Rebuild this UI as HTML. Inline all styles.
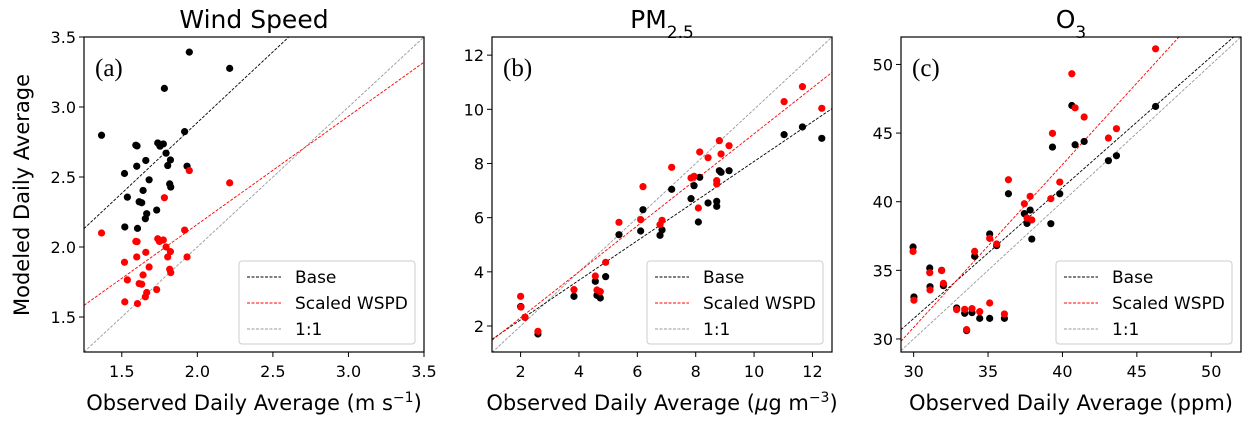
<!DOCTYPE html>
<html><head><meta charset="utf-8"><style>
html,body{margin:0;padding:0;background:#fff;}
svg{display:block;font-family:"DejaVu Sans","Liberation Sans",sans-serif;}
</style></head><body>
<svg id="chart" width="1258" height="421" viewBox="0 0 1258 421" xmlns="http://www.w3.org/2000/svg"></svg>
<script>
// Panel (a) Wind Speed
const aBaseX=[1.947,2.214,1.782,1.366,1.916,1.593,1.601,1.738,1.753,1.775,1.749,1.793,1.659,1.822,1.599,1.804,1.932,1.518,1.681,1.817,1.824,1.641,1.537,1.615,1.632,1.665,1.656,1.731,1.520,1.604];
const aBaseY=[3.392,3.276,3.133,2.798,2.824,2.727,2.722,2.743,2.720,2.736,2.730,2.670,2.618,2.622,2.577,2.582,2.577,2.525,2.480,2.451,2.428,2.404,2.356,2.323,2.316,2.238,2.202,2.264,2.143,2.133];
const aScaledY=[2.546,2.458,2.352,2.100,2.121,2.040,2.038,2.059,2.043,2.050,2.040,2.000,1.962,1.967,1.929,1.929,1.929,1.891,1.857,1.841,1.817,1.800,1.765,1.739,1.734,1.675,1.644,1.696,1.608,1.596];
const aFit=[[1.01,0.869],[0.772,0.618]];
// Panel (b) PM2.5
const bX=[2.594,2.0,2.011,2.149,3.829,4.56,4.617,4.731,4.914,5.371,6.114,6.194,6.777,6.846,7.177,7.84,8.091,7.943,8.137,8.423,8.72,8.72,8.811,8.869,9.143,11.029,11.657,12.32];
const bBaseY=[1.705,2.714,2.714,2.32,3.095,3.649,3.132,3.034,3.822,5.372,5.508,6.295,5.348,5.545,7.046,6.702,5.84,7.182,7.489,6.542,6.603,6.418,7.735,7.674,7.735,9.065,9.348,8.929];
const bScaledY=[1.803,3.095,2.70,2.32,3.342,3.846,3.329,3.268,4.351,5.828,5.926,7.145,5.742,5.902,7.858,7.465,6.357,7.526,8.425,8.215,7.366,7.243,8.843,8.351,8.658,10.283,10.837,10.037];
const bFit=[[0.731,0.765],[0.849,0.608]];
// Panel (c) O3
const cX=[29.96,30.02,31.08,31.10,31.88,32.0,32.89,33.43,33.56,33.92,34.10,34.44,35.11,35.11,35.58,36.10,36.37,37.44,37.62,37.83,37.94,39.22,39.33,39.82,40.63,40.85,41.46,43.09,43.63,46.26];
const cBaseY=[36.70,33.06,35.17,33.81,35.0,33.88,32.26,31.87,30.61,31.92,36.02,31.50,37.65,31.50,36.80,31.50,40.58,39.13,38.42,39.39,37.28,38.40,43.98,40.58,47.01,44.15,44.39,42.99,43.35,46.94];
const cScaledY=[36.38,32.82,34.83,33.57,34.98,34.05,32.14,32.16,30.68,32.21,36.38,31.99,37.33,32.62,36.92,31.82,41.60,39.85,38.81,40.39,38.67,40.22,44.98,41.43,49.32,46.84,46.17,44.64,45.32,51.14];
const cFit=[[0.954,2.87],[1.187,-4.77]];
const aTicksX=[1.5,2.0,2.5,3.0,3.5], aTicksY=[1.5,2.0,2.5,3.0,3.5];
const bTicksX=[2,4,6,8,10,12], bTicksY=[2,4,6,8,10,12];
const cTicksX=[30,35,40,45,50], cTicksY=[30,35,40,45,50];

const NS="http://www.w3.org/2000/svg";
const svg=document.getElementById('chart');
function mk(tag,attrs,parent,text){const e=document.createElementNS(NS,tag);for(const k in attrs)e.setAttribute(k,attrs[k]);if(text!==undefined)e.textContent=text;(parent||svg).appendChild(e);return e;}

const panels=[
 {id:'a',L:84,R:424,T:37,B:352,xr:[1.25,3.5],yr:[1.25,3.5],xs:aBaseX,xs2:aBaseX,by:aBaseY,sy:aScaledY,fit:aFit,tx:aTicksX,ty:aTicksY,fmt:v=>v.toFixed(1),title:'Wind Speed',xl:'Observed Daily Average (m s<tspan baseline-shift="super" font-size="14">−1</tspan>)',letter:'(a)'},
 {id:'b',L:492,R:832,T:37,B:352,xr:[1.02,12.67],yr:[1.04,12.67],xs:bX,xs2:bX,by:bBaseY,sy:bScaledY,fit:bFit,tx:bTicksX,ty:bTicksY,fmt:v=>String(v),title:'PM<tspan baseline-shift="sub" font-size="17">2.5</tspan>',xl:'Observed Daily Average (<tspan font-style="italic">μ</tspan>g m<tspan baseline-shift="super" font-size="14">−3</tspan>)',letter:'(b)'},
 {id:'c',L:901,R:1241,T:37,B:352,xr:[29.15,52.0],yr:[29.05,52.0],xs:cX,xs2:cX,by:cBaseY,sy:cScaledY,fit:cFit,tx:cTicksX,ty:cTicksY,fmt:v=>String(v),title:'O<tspan baseline-shift="sub" font-size="17">3</tspan>',xl:'Observed Daily Average (ppm)',letter:'(c)'}
];

panels.forEach(p=>{
 const g=mk('g',{});
 
 
 const sx=v=>p.L+(v-p.xr[0])/(p.xr[1]-p.xr[0])*(p.R-p.L);
 const sy=v=>p.B-(v-p.yr[0])/(p.yr[1]-p.yr[0])*(p.B-p.T);
 const cid='clip'+p.id;
 const defs=mk('defs',{},g);
 const cp=mk('clipPath',{id:cid},defs);
 mk('rect',{x:p.L,y:p.T,width:p.R-p.L,height:p.B-p.T},cp);
 const plot=mk('g',{'clip-path':'url(#'+cid+')'},g);
 // fit lines
 const lineDefs=[[1,0,'#999','one-to-one-line'],[p.fit[0][0],p.fit[0][1],'#000','base-fit-line'],[p.fit[1][0],p.fit[1][1],'#f00','scaled-fit-line']];
 lineDefs.forEach(d=>{
  const x0=p.xr[0],x1=p.xr[1];
  const l=mk('line',{x1:sx(x0),y1:sy(d[0]*x0+d[1]),x2:sx(x1),y2:sy(d[0]*x1+d[1]),stroke:d[2],'stroke-width':0.9,'stroke-dasharray':'3,1.5'},plot);
  
  
 });
 p.xs.forEach((x,i)=>{
  const c=mk('circle',{cx:sx(x),cy:sy(p.by[i]),r:3.6,fill:'#000'},plot);
  
  
 });
 p.xs2.forEach((x,i)=>{
  const c=mk('circle',{cx:sx(x),cy:sy(p.sy[i]),r:3.6,fill:'#f00'},plot);
  
  
 });
 // frame
 const fr=mk('rect',{x:p.L,y:p.T,width:p.R-p.L,height:p.B-p.T,fill:'none',stroke:'#000','stroke-width':1.2},g);
 
 
 p.tx.forEach(v=>{
  const x=sx(v);
  mk('line',{x1:x,y1:p.B,x2:x,y2:p.B+5,stroke:'#000','stroke-width':1},g);
  const t=mk('text',{x:x,y:p.B+25,'text-anchor':'middle','font-size':16},g,p.fmt(v));
  
  
 });
 p.ty.forEach(v=>{
  const y=sy(v);
  if(y<p.T-1)return;
  mk('line',{x1:p.L,y1:y,x2:p.L-5,y2:y,stroke:'#000','stroke-width':1},g);
  const t=mk('text',{x:p.L-8,y:y+6,'text-anchor':'end','font-size':16},g,p.fmt(v));
  
  
 });
 const ti=mk('text',{x:(p.L+p.R)/2,y:28,'text-anchor':'middle','font-size':25},g);
 ti.innerHTML=p.title;
 
 
 const xl=mk('text',{x:(p.L+p.R)/2,y:410,'text-anchor':'middle','font-size':21},g);
 xl.innerHTML=p.xl;
 
 
 const le=mk('text',{x:p.L+11,y:76,'font-size':25,'font-family':'Liberation Serif, serif'},g,p.letter);
 
 
 // legend
 const lg=mk('g',{},g);
 
 
 const lx=p.R-185,ly=p.B-91;
 mk('rect',{x:lx,y:ly,width:176,height:83,rx:3,fill:'#fff','fill-opacity':0.85,stroke:'#ccc','stroke-width':1},lg);
 [['Base','#000'],['Scaled WSPD','#f00'],['1:1','#999']].forEach((e,i)=>{
  const yy=ly+16+i*26;
  const eg=mk('g',{},lg);
  
  
  mk('line',{x1:lx+8,y1:yy,x2:lx+42,y2:yy,stroke:e[1],'stroke-width':1,'stroke-dasharray':'3,1.5'},eg);
  mk('text',{x:lx+56,y:yy+6,'font-size':17},eg,e[0]);
 });
});
const yl=mk('text',{x:0,y:0,transform:'translate(29,195) rotate(-90)','text-anchor':'middle','font-size':21},svg,'Modeled Daily Average');


</script>
</body></html>
